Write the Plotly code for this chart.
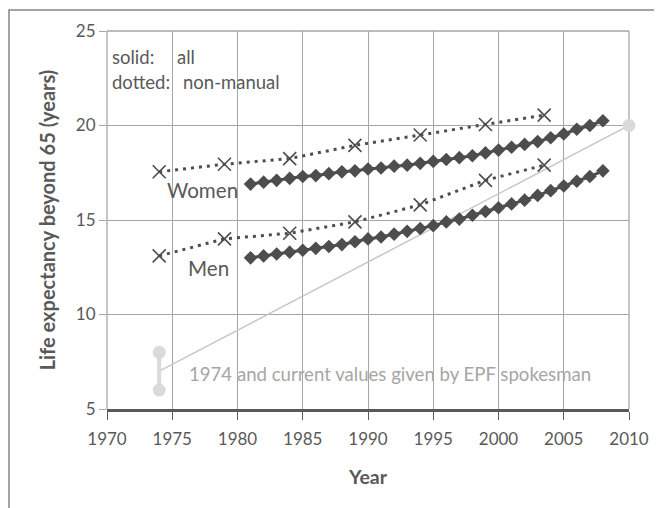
import plotly.graph_objects as go

# ---- data ----
years_all = list(range(1981, 2009))
women_all = [16.9, 17.0, 17.1, 17.2, 17.3, 17.35, 17.45, 17.55, 17.6, 17.7,
             17.75, 17.85, 17.9, 18.0, 18.1, 18.2, 18.3, 18.4, 18.55, 18.7,
             18.85, 19.0, 19.15, 19.35, 19.55, 19.8, 20.0, 20.25]
men_all = [13.0, 13.1, 13.2, 13.3, 13.4, 13.5, 13.6, 13.7, 13.85, 14.0,
           14.1, 14.25, 14.4, 14.55, 14.7, 14.9, 15.05, 15.25, 15.45, 15.65,
           15.85, 16.05, 16.3, 16.55, 16.8, 17.05, 17.3, 17.6]
years_nm = [1974, 1979, 1984, 1989, 1994, 1999, 2003.5]
women_nm = [17.55, 17.95, 18.25, 18.95, 19.5, 20.05, 20.55]
men_nm = [13.1, 14.0, 14.3, 14.9, 15.8, 17.1, 17.9]
epf_years = [1974, 1974]
epf_values = [6, 8]
epf_line_years = [1974, 2010]
epf_line_values = [7, 20]
epf_now_year = [2010]
epf_now_value = [20]

x_ticks = [1970, 1975, 1980, 1985, 1990, 1995, 2000, 2005, 2010]
y_ticks = [5, 10, 15, 20, 25]

FONT = "Lato"
DARK = "#4d4d4d"
TXT = "#595959"
GRID = "#a6a6a6"

fig = go.Figure()

fig.add_trace(go.Scatter(x=epf_line_years, y=epf_line_values, mode="lines",
                         line=dict(color="#c8c8c8", width=1.5),
                         hoverinfo="skip", showlegend=False))
fig.add_trace(go.Scatter(x=epf_years, y=epf_values, mode="lines+markers",
                         line=dict(color="#dadada", width=4),
                         marker=dict(symbol="circle", size=13, color="#dadada"),
                         cliponaxis=False, showlegend=False))
fig.add_trace(go.Scatter(x=epf_now_year, y=epf_now_value, mode="markers",
                         marker=dict(symbol="circle", size=13, color="#dadada"),
                         cliponaxis=False, showlegend=False))

for xs, ys in ((years_nm, women_nm), (years_nm, men_nm)):
    fig.add_trace(go.Scatter(x=xs, y=ys, mode="lines+markers",
                             line=dict(color=DARK, width=3, dash="3px,5px"),
                             marker=dict(symbol="x-thin-open", size=13,
                                         line=dict(color="#404040", width=1.6)),
                             showlegend=False))

for xs, ys in ((years_all, women_all), (years_all, men_all)):
    fig.add_trace(go.Scatter(x=xs, y=ys, mode="lines+markers",
                             line=dict(color=DARK, width=3),
                             marker=dict(symbol="diamond", size=10.5, color=DARK),
                             showlegend=False))

annotations = [
    dict(x=1970.2, y=23.62, text="solid:", xanchor="left", font_size=18.5),
    dict(x=1975.2, y=23.62, text="all", xanchor="left", font_size=18.5),
    dict(x=1970.2, y=22.3, text="dotted:", xanchor="left", font_size=18.5),
    dict(x=1975.65, y=22.3, text="non-manual", xanchor="left", font_size=18.5),
    dict(x=1977.3, y=16.59, text="Women", xanchor="center", font_size=20.6),
    dict(x=1977.8, y=12.46, text="Men", xanchor="center", font_size=20.6),
    dict(x=1976.1, y=6.85, text="1974 and current values given by EPF spokesman",
         xanchor="left", font_size=18.6, font_color="#a6a6a6"),
]
for a in annotations:
    a.setdefault("font_color", TXT)
    a["font_family"] = FONT
    a.update(xref="x", yref="y", showarrow=False, yanchor="middle")

edge = dict(xref="paper", yref="paper", line=dict(color=GRID, width=1.3), layer="below")
fig.update_layout(
    width=662, height=508,
    margin=dict(l=99, r=41, t=23, b=107),
    paper_bgcolor="white", plot_bgcolor="white",
    font=dict(family=FONT, color=TXT),
    annotations=annotations,
    shapes=[
        dict(type="rect", xref="paper", yref="paper",
             x0=-0.1877, x1=1.3, y0=-0.4, y1=1.0556,
             line=dict(color="#868686", width=1.5), layer="below"),
        dict(type="line", x0=0, x1=0, y0=0, y1=1, **edge),
        dict(type="line", x0=1, x1=1, y0=0, y1=1, **edge),
        dict(type="line", x0=0, x1=1, y0=1, y1=1, **edge),
    ],
)
fig.update_xaxes(range=[1970, 2010], tickvals=x_ticks, ticktext=[str(v) for v in x_ticks],
                 showgrid=True, gridcolor=GRID, gridwidth=1.3,
                 showline=True, linecolor=TXT, linewidth=2.5,
                 ticks="outside", ticklen=8, tickcolor=TXT, tickwidth=1.3,
                 ticklabelstandoff=5,
                 tickfont=dict(size=17, color=TXT, family=FONT),
                 title=dict(text="<b>Year</b>", font=dict(size=19.5, color=TXT, family=FONT), standoff=23),
                 zeroline=False)
fig.update_yaxes(range=[5, 25], tickvals=y_ticks, ticktext=[str(v) for v in y_ticks],
                 showgrid=True, gridcolor=GRID, gridwidth=1.3,
                 showline=False, ticks="outside", ticklen=7, tickcolor=GRID, tickwidth=1.3,
                 tickfont=dict(size=17, color=TXT, family=FONT),
                 title=dict(text="<b>Life expectancy beyond 65 (years)</b>",
                            font=dict(size=20, color=TXT, family=FONT), standoff=14),
                 zeroline=False)

fig.write_html("out.html")
